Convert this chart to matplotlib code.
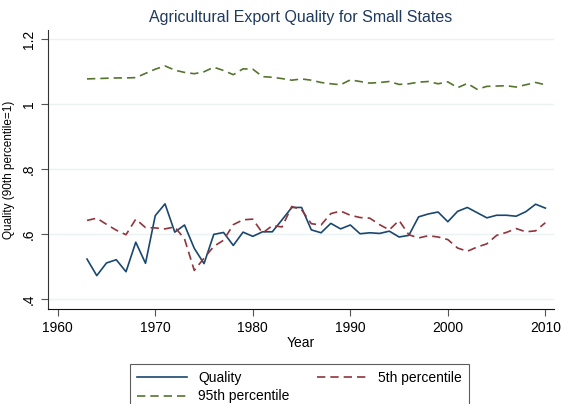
import matplotlib
matplotlib.use('Agg')
import matplotlib.pyplot as plt
import numpy as np

years = list(range(1963, 2011))

quality = [0.523, 0.472, 0.511, 0.521, 0.484, 0.575, 0.510, 0.657, 0.693, 0.606,
           0.628, 0.556, 0.509, 0.599, 0.605, 0.565, 0.606, 0.593, 0.607, 0.607,
           0.644, 0.682, 0.682, 0.613, 0.604, 0.633, 0.616, 0.628, 0.601, 0.604,
           0.602, 0.609, 0.591, 0.596, 0.653, 0.662, 0.668, 0.638, 0.670, 0.682,
           0.666, 0.650, 0.658, 0.658, 0.655, 0.669, 0.692, 0.680]

p5 = [0.642, 0.649, 0.630, 0.612, 0.598, 0.646, 0.620, 0.619, 0.616, 0.622,
      0.585, 0.488, 0.526, 0.562, 0.581, 0.629, 0.644, 0.646, 0.603, 0.626,
      0.622, 0.685, 0.675, 0.632, 0.628, 0.663, 0.671, 0.658, 0.651, 0.649,
      0.629, 0.613, 0.642, 0.598, 0.588, 0.595, 0.591, 0.583, 0.557, 0.547,
      0.560, 0.570, 0.596, 0.605, 0.617, 0.607, 0.610, 0.635]

p95 = [1.078, 1.079, 1.080, 1.081, 1.081, 1.082, 1.095, 1.108, 1.118, 1.105,
       1.098, 1.094, 1.100, 1.114, 1.104, 1.091, 1.109, 1.108, 1.085, 1.083,
       1.079, 1.074, 1.078, 1.074, 1.067, 1.063, 1.060, 1.075, 1.070, 1.065,
       1.067, 1.070, 1.061, 1.063, 1.068, 1.070, 1.063, 1.069, 1.051, 1.064,
       1.046, 1.055, 1.056, 1.057, 1.053, 1.060, 1.067, 1.060]

xticks = [1960, 1970, 1980, 1990, 2000, 2010]
yticks = [0.4, 0.6, 0.8, 1.0, 1.2]
ytick_labels = ['.4', '.6', '.8', '1', '1.2']

plt.rcParams['font.family'] = ['Liberation Sans', 'DejaVu Sans']

fig = plt.figure(figsize=(5.62, 4.04), dpi=100)
ax = fig.add_axes([0.0854, 0.235, 0.9006, 0.691])

navy = '#1a476f'
maroon = '#90353b'
green = '#55752f'

l1, = ax.plot(years, quality, color=navy, lw=1.2, label='Quality')
l2, = ax.plot(years, p5, color=maroon, lw=1.2, dashes=(5, 3), label='5th percentile')
l3, = ax.plot(years, p95, color=green, lw=1.2, dashes=(5, 3), label='95th percentile')

ax.set_xlim(1959.0, 2010.9)
ax.set_ylim(0.369, 1.229)
ax.set_xticks(xticks)
ax.set_yticks(yticks)
ax.set_yticklabels(ytick_labels, rotation=90, va='center')
ax.tick_params(axis='both', labelsize=10, length=5, width=0.8, color='#555555')

# light horizontal grid, Stata style
for y in yticks:
    ax.axhline(y, color='#eaf2f3', lw=1.0, zorder=0)

ax.spines['top'].set_visible(False)
ax.spines['right'].set_visible(False)
ax.spines['left'].set_color('#333333')
ax.spines['bottom'].set_color('#111111')

ax.set_xlabel('Year', fontsize=10, labelpad=1)
ax.set_ylabel('Quality (90th percentile=1)', fontsize=8.5, labelpad=5)
ax.set_title('Agricultural Export Quality for Small States', fontsize=11.5,
             color='#1e3a5f', pad=6)

# order handles so rows read: Quality | 5th, then 95th
leg = fig.legend([l1, l3, l2], ['Quality', '95th percentile', '5th percentile'],
                 ncol=2, loc='upper center', bbox_to_anchor=(0.533, 0.117),
                 fontsize=10, frameon=True, fancybox=False, edgecolor='#333333',
                 handlelength=3.6, handletextpad=0.8, columnspacing=2.0,
                 borderpad=0.5, labelspacing=0.35)
leg.get_frame().set_linewidth(0.8)

fig.savefig('out.png', dpi=100)
